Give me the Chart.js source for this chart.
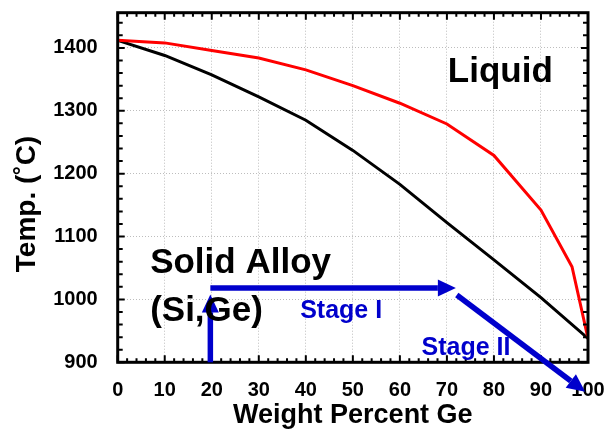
<!DOCTYPE html>
<html>
<head>
<meta charset="utf-8">
<script src="https://cdn.jsdelivr.net/npm/chart.js@4"></script>
<style>
  html, body { margin: 0; padding: 0; background: #fff; }
  #wrap { width: 605px; height: 433px; }
</style>
</head>
<body>
<div id="wrap"><canvas id="phaseChart" width="605" height="433"></canvas></div>
<script>
// Si-Ge phase diagram data (wt% Ge vs temperature in C)
const solidusGe = [0, 10, 20, 30, 40, 50, 60, 70, 80, 90, 100];
const solidusTemp = [1412, 1388, 1357, 1322, 1285, 1237, 1183, 1122, 1063, 1003, 938];
const liquidusGe = [0, 10, 20, 30, 40, 50, 60, 70, 80, 90, 96.6, 100];
const liquidusTemp = [1412, 1408, 1396, 1384, 1365, 1340, 1312, 1279, 1229, 1142, 1052, 938];
const yTicks = [900, 1000, 1100, 1200, 1300, 1400];

// process arrows: [x0, y0, x1, y1] in data units
const arrows = [
    [19.7, 900, 19.7, 1008],
    [19.7, 1018, 71.9, 1018],
    [72.1, 1007, 99.4, 853]
];
// annotations: [text, x, y, font size, colour]
const labels = [
    ['Liquid', 70.2, 1346, 35, '#000'],
    ['Solid Alloy', 6.9, 1042, 35, '#000'],
    ['(Si,Ge)', 6.9, 966, 35, '#000'],
    ['Stage I', 38.8, 970, 25, '#0000cc'],
    ['Stage II', 64.6, 912, 25, '#0000cc']
];

const FONT = '"Liberation Sans", Arial, Helvetica, sans-serif';

// keep the plot frame where the reference has it
function noScalePadding(scale) {
    scale.paddingTop = 0;
    scale.paddingBottom = 0;
    scale.paddingLeft = 0;
    scale.paddingRight = 0;
}

const decorPlugin = {
    id: 'decor',
    afterDatasetsDraw(chart) {
        const ctx = chart.ctx;
        const xs = chart.scales.x, ys = chart.scales.y;
        const a = chart.chartArea;
        ctx.save();

        // inward ticks on all four sides
        ctx.strokeStyle = '#000';
        ctx.lineWidth = 2;
        ctx.beginPath();
        for (let v = 0; v <= 100; v += 2) {
            const px = xs.getPixelForValue(v);
            const len = v % 10 === 0 ? 7 : 4;
            ctx.moveTo(px, a.bottom); ctx.lineTo(px, a.bottom - len);
            ctx.moveTo(px, a.top); ctx.lineTo(px, a.top + len);
        }
        for (let v = 900; v <= 1450; v += 20) {
            const py = ys.getPixelForValue(v);
            const len = v % 100 === 0 ? 7 : 5;
            ctx.moveTo(a.left, py); ctx.lineTo(a.left + len, py);
            ctx.moveTo(a.right, py); ctx.lineTo(a.right - len, py);
        }
        ctx.stroke();

        // frame
        ctx.lineWidth = 3;
        ctx.strokeRect(a.left, a.top, a.right - a.left, a.bottom - a.top);

        // blue arrows
        ctx.strokeStyle = '#0000cc';
        ctx.fillStyle = '#0000cc';
        arrows.forEach(([x0, y0, x1, y1]) => {
            const p0x = xs.getPixelForValue(x0), p0y = ys.getPixelForValue(y0);
            const p1x = xs.getPixelForValue(x1), p1y = ys.getPixelForValue(y1);
            const ang = Math.atan2(p1y - p0y, p1x - p0x);
            const headLen = 18, headW = 8.5;
            const bx = p1x - headLen * Math.cos(ang), by = p1y - headLen * Math.sin(ang);
            ctx.lineWidth = 5.5;
            ctx.beginPath();
            ctx.moveTo(p0x, p0y);
            ctx.lineTo(bx, by);
            ctx.stroke();
            ctx.beginPath();
            ctx.moveTo(p1x, p1y);
            ctx.lineTo(bx + headW * Math.sin(ang), by - headW * Math.cos(ang));
            ctx.lineTo(bx - headW * Math.sin(ang), by + headW * Math.cos(ang));
            ctx.closePath();
            ctx.fill();
        });

        // text annotations
        ctx.textAlign = 'left';
        ctx.textBaseline = 'alphabetic';
        labels.forEach(([t, x, y, size, col]) => {
            ctx.font = 'bold ' + size + 'px ' + FONT;
            ctx.fillStyle = col;
            ctx.fillText(t, xs.getPixelForValue(x), ys.getPixelForValue(y));
        });

        // axis titles
        ctx.fillStyle = '#000';
        ctx.textAlign = 'center';
        ctx.font = 'bold 27px ' + FONT;
        ctx.fillText('Weight Percent Ge', (a.left + a.right) / 2, 423);
        ctx.font = 'bold 28px ' + FONT;
        ctx.translate(35, 204);
        ctx.rotate(-Math.PI / 2);
        ctx.fillText('Temp. (˚C)', 0, 0);
        ctx.restore();
    }
};

const ctx = document.getElementById('phaseChart').getContext('2d');
const phaseChart = new Chart(ctx, {
    type: 'line',
    data: {
        datasets: [{
            label: 'Liquidus',
            data: liquidusGe.map((g, i) => ({ x: g, y: liquidusTemp[i] })),
            borderColor: '#ff0000',
            borderWidth: 3,
            pointRadius: 0,
            fill: false,
            tension: 0
        }, {
            label: 'Solidus',
            data: solidusGe.map((g, i) => ({ x: g, y: solidusTemp[i] })),
            borderColor: '#000000',
            borderWidth: 3,
            pointRadius: 0,
            fill: false,
            tension: 0
        }]
    },
    options: {
        responsive: false,
        animation: false,
        layout: { padding: { left: 0, top: 12.7, right: 17, bottom: 0 } },
        plugins: {
            legend: { display: false },
            tooltip: { enabled: false }
        },
        scales: {
            x: {
                type: 'linear',
                min: 0,
                max: 100,
                ticks: {
                    stepSize: 10,
                    padding: 16,
                    color: '#000',
                    maxRotation: 0,
                    font: { family: FONT, size: 20, weight: 'bold' },
                    callback: v => String(v)
                },
                grid: { color: '#bdbdbd', lineWidth: 1, drawTicks: false },
                border: { display: false, dash: [1, 2] },
                afterFit(scale) { scale.height = 70.7; noScalePadding(scale); }
            },
            y: {
                type: 'linear',
                min: 900,
                max: 1456,
                afterBuildTicks(scale) {
                    scale.ticks = yTicks.map(v => ({ value: v }));
                },
                ticks: {
                    padding: 20,
                    color: '#000',
                    font: { family: FONT, size: 20, weight: 'bold' },
                    callback: v => String(v)
                },
                grid: { color: '#bdbdbd', lineWidth: 1, drawTicks: false },
                border: { display: false, dash: [1, 2] },
                afterFit(scale) { scale.width = 117.7; noScalePadding(scale); }
            }
        }
    },
    plugins: [decorPlugin]
});
</script>
</body>
</html>
